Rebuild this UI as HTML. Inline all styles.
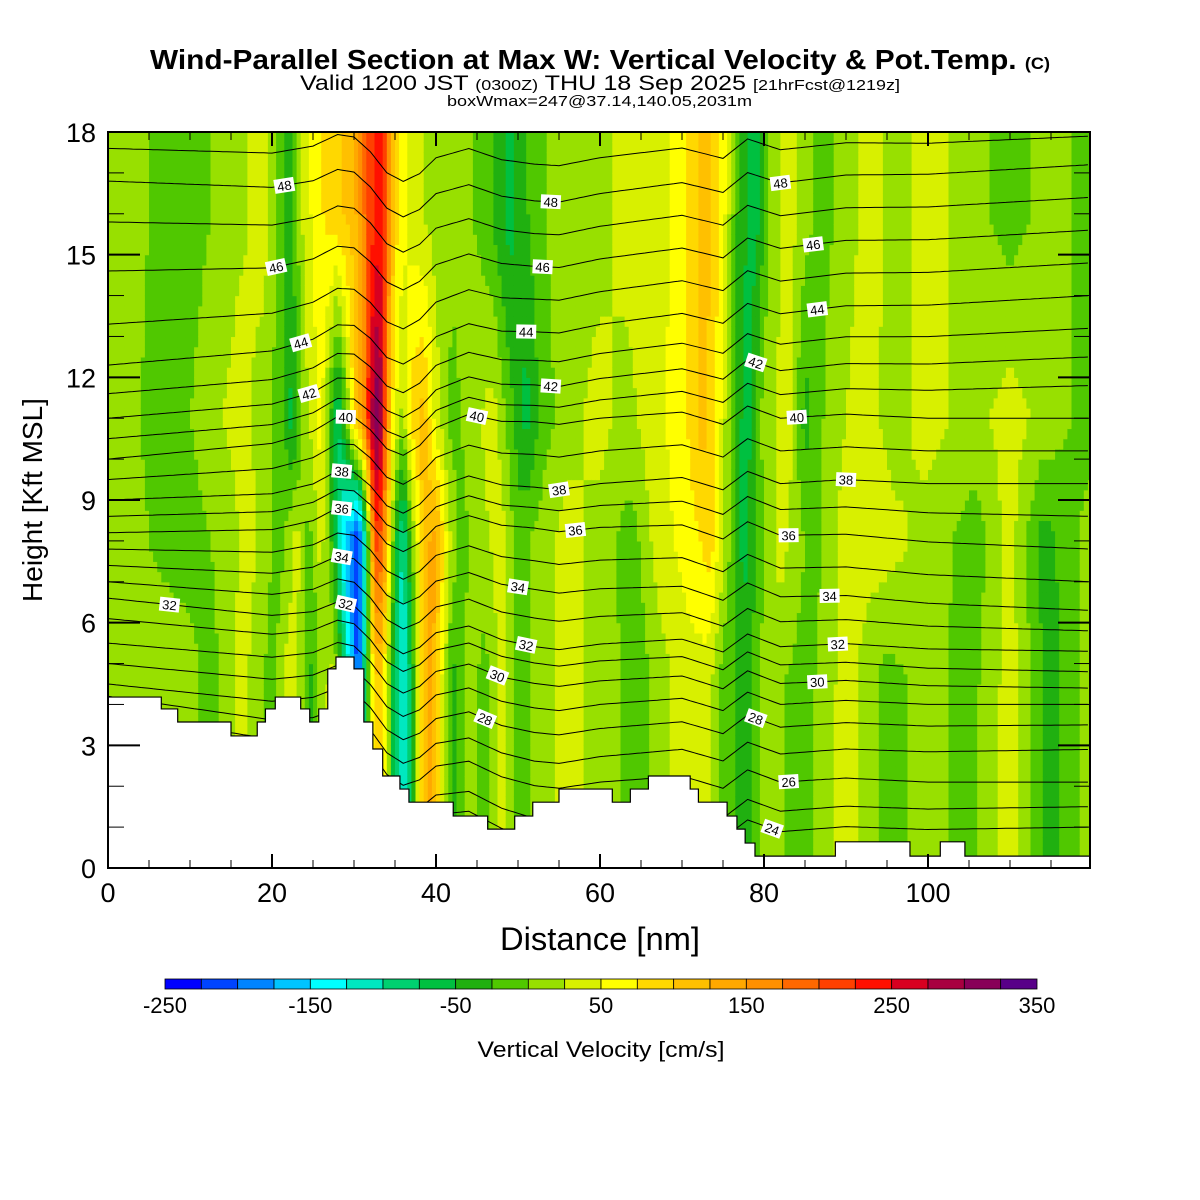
<!DOCTYPE html>
<html><head><meta charset="utf-8"><style>
body{margin:0;background:#fff;}
svg{display:block;font-family:"Liberation Sans",sans-serif;}
</style></head><body>
<svg id="chart" width="1200" height="1200" viewBox="0 0 1200 1200">
<text x="150" y="69" font-size="28" font-weight="bold" textLength="900" lengthAdjust="spacingAndGlyphs">Wind-Parallel Section at Max W: Vertical Velocity &amp; Pot.Temp. <tspan font-size="17">(C)</tspan></text>
<text x="300" y="90" font-size="21" textLength="600" lengthAdjust="spacingAndGlyphs">Valid 1200 JST <tspan font-size="15">(0300Z)</tspan> THU 18 Sep 2025 <tspan font-size="15">[21hrFcst@1219z]</tspan></text>
<text x="447" y="106" font-size="15" textLength="305" lengthAdjust="spacingAndGlyphs">boxWmax=247@37.14,140.05,2031m</text>
<defs><clipPath id="plotclip"><rect x="108" y="132" width="982" height="736"/></clipPath><clipPath id="airclip"><path id="airpath" d=""/></clipPath></defs>
<g id="field" clip-path="url(#plotclip)"></g>
<g id="terrain"></g>
<g id="contours" clip-path="url(#airclip)"></g>
<g id="labels"></g>
<rect x="108" y="132" width="982" height="736" fill="none" stroke="#000" stroke-width="2"/>
<g id="axes"></g>
<text x="600" y="950" text-anchor="middle" font-size="32" textLength="200" lengthAdjust="spacingAndGlyphs">Distance [nm]</text>
<text transform="translate(42,500) rotate(-90)" text-anchor="middle" font-size="28">Height [Kft MSL]</text>
<g id="cbar"></g>
<text x="601" y="1057" text-anchor="middle" font-size="22" textLength="247" lengthAdjust="spacingAndGlyphs">Vertical Velocity [cm/s]</text>
</svg>
<script>
const NS="http://www.w3.org/2000/svg";
// ---- data ----
const colorLevels=[-250,-225,-200,-175,-150,-125,-100,-75,-50,-25,0,25,50,75,100,125,150,175,200,225,250,275,300,325];
const colorHex=["#0000ff","#0044ff","#0084ff","#00c4ff","#00ffff","#00e8c0","#00d070","#00c040","#20b010","#50c800","#98e000","#d8f000","#ffff00","#ffd800","#ffc000","#ffa800","#ff9000","#ff6800","#ff4000","#ff1000","#d80020","#a80040","#880058","#580088"];
const cbarTicks=[-250,-150,-50,50,150,250,350];
const wHeights=[4.5,8,11,16];
const wLowDist=[0,10,12,15,16,18,20,22,23.5,25,26,27.5,28.5,29.5,30.5,31,32,33,34,35,36,37,38,39.5,40.5,42,44,46,48,50,53,56,60,65,70,73,75,78,80,85,90,95,100,105,110,115,120];
const wLowVal=[0,0,-25,0,25,0,-25,25,0,-50,0,25,-50,-150,-225,-150,25,100,25,-100,-150,-75,50,125,50,-50,0,-25,25,-25,0,25,0,-25,25,25,-25,-50,0,-25,25,-25,0,-25,25,-50,0];
const w8Dist=[0,10,15,17,19,21,23,24.5,26,27.5,28.5,29.5,30.5,31.5,32.5,33.5,35,36,37,38.5,40,41.5,43,45,48,50,53,56,60,64,67,71,73.5,75.5,77.5,79.5,82,86,90,95,100,106,110,114,120];
const w8Val=[0,-25,0,25,0,-25,25,-25,25,-50,-150,-200,-250,-100,200,175,-50,-125,-25,100,125,25,-25,0,25,-25,0,25,0,-25,25,50,75,0,-75,-25,25,-25,25,25,0,-25,25,-50,0];
const wMidDist=[0,8,12,16,19,21,22.5,24,26,28,29,30,31,32,33,34,34.8,36,37,38.5,40,42,44,47,49,51,53,56,60,63,66,70,72.5,74.5,76.5,78,80,83,85,88,92,96,100,105,110,115,120];
const wMidVal=[0,-25,0,25,0,-25,-75,0,50,-100,-25,75,125,250,325,150,50,0,75,100,25,-25,0,25,-25,-75,-25,0,25,0,25,50,100,50,-50,-75,0,25,-50,0,25,0,25,0,25,0,-25];
const wTopDist=[0,10,15,19,22,24,27,30,32,33.5,35,37,40,43,46,49,52,55,60,63,67,70,73,75,77,79,81,83,85,87,90,93,96,100,105,110,115,120];
const wTopVal=[0,-25,0,25,-50,25,75,100,200,225,75,25,0,0,-25,-75,-25,0,0,25,25,50,100,50,-50,-75,0,25,0,-25,0,25,0,25,0,-25,0,-25];
const terrDist=[0,6.5,8.5,15,18.2,19.2,20.4,23.5,24.6,25.7,26.8,27.8,30,31.2,32.3,33.5,35.6,36.7,42.1,46.3,49.6,51.8,55,61.5,63.7,65.9,71,72,75.5,76.7,77.7,78.9,88.7,97.8,101.5,104.5];
const terrH=[4.18,3.89,3.57,3.23,3.57,3.89,4.18,3.89,3.57,3.89,4.87,5.16,4.87,3.57,2.91,2.25,1.93,1.61,1.27,0.95,1.27,1.61,1.93,1.61,1.93,2.25,1.93,1.61,1.27,0.95,0.61,0.29,0.64,0.29,0.64,0.29];
const thetaLevels=[24,25,26,27,28,29,30,31,32,33,34,35,36,37,38,39,40,41,42,43,44,45,46,47,48,49];
const thetaLeft=[3.0,3.4,3.8,4.2,4.5,5.0,5.5,6.1,6.6,7.0,7.4,7.8,8.2,8.6,9.0,9.5,10.0,10.5,11.0,11.6,12.3,13.3,14.6,15.8,16.8,17.6];
const thetaMid=[0.8,1.3,2.1,2.7,3.4,4.0,4.6,5.1,5.5,6.2,6.9,7.6,8.4,8.9,9.4,10.2,11.0,11.4,11.9,12.5,13.2,14.0,14.8,15.6,16.4,17.3];
const thetaRight=[1.0,1.5,2.1,2.9,3.5,4.0,4.4,4.8,5.3,5.8,6.3,7.0,7.8,8.6,9.4,10.2,11.0,11.8,12.5,13.2,14.0,14.8,15.6,16.4,17.2,17.9];
const dispDist=[0,20,25,28,30,32,34,36,38,40,44,48,55,60,70,75,78,82,90,100,120];
const dispVal=[0,0,0.2,0.5,0.45,0.1,-0.4,-0.6,-0.4,0,0.25,0,-0.15,0,0.15,-0.15,0.3,0,0.1,0,0];
const labelTheta=[32,48,46,44,42,40,38,36,34,32,48,46,44,42,40,38,36,34,32,30,28,48,46,44,42,40,38,36,34,32,30,28,26,24];
const labelX=[7.5,21.5,20.5,23.5,24.5,29,28.5,28.5,28.5,29,54,53,51,54,45,55,57,50,51,47.5,46,82,86,86.5,79,84,90,83,88,89,86.5,79,83,81];
// ---- scales ----
const X0=108,X1=1090,Y0=868,Y1=132,XMAX=(X1-X0)/8.2;
const sx=d=>X0+d*8.2, sy=h=>Y0-h*(Y0-Y1)/18;
function interp(xs,ys,x){if(x<=xs[0])return ys[0];for(let i=1;i<xs.length;i++){if(x<=xs[i]){const t=(x-xs[i-1])/(xs[i]-xs[i-1]);return ys[i-1]+t*(ys[i]-ys[i-1]);}}return ys[ys.length-1];}
function wAt(d,h){const a=interp(wLowDist,wLowVal,d),b=interp(w8Dist,w8Val,d),m=interp(wMidDist,wMidVal,d),c=interp(wTopDist,wTopVal,d);return interp(wHeights,[a,b,m,c],h);}
function colorFor(v){let i=Math.floor((v+250)/25+0.5);i=Math.max(0,Math.min(colorHex.length-1,i));return colorHex[i];}
function thetaY(k,d){const base=interp([0,52,XMAX],[thetaLeft[k],thetaMid[k],thetaRight[k]],d);return base+interp(dispDist,dispVal,d);}
// ---- field ----
const field=document.getElementById('field');
const dx=0.5,dh=0.25;
for(let d=0;d<XMAX;d+=dx){for(let h=0;h<18;h+=dh){const r=document.createElementNS(NS,'rect');
r.setAttribute('x',sx(d));r.setAttribute('y',sy(h+dh));r.setAttribute('width',dx*8.2+0.6);r.setAttribute('height',dh*40.89+0.6);
r.setAttribute('fill',colorFor(wAt(d+dx/2,h+dh/2)));


field.appendChild(r);}}
// ---- terrain ----
let tp=`M${X0},${Y0}`,ap=`M${X0},${Y1}`;
for(let i=0;i<terrDist.length;i++){const x=sx(terrDist[i]),y=sy(terrH[i]);
if(i===0){tp+=` L${x},${y}`;ap+=` L${x},${y}`;}else{const py=sy(terrH[i-1]);tp+=` L${x},${py} L${x},${y}`;ap+=` L${x},${py} L${x},${y}`;}}
tp+=` L${X1},${sy(terrH[terrH.length-1])} L${X1},${Y0} Z`;ap+=` L${X1},${sy(terrH[terrH.length-1])} L${X1},${Y1} Z`;
const tpath=document.createElementNS(NS,'path');tpath.setAttribute('d',tp);tpath.setAttribute('fill','#fff');tpath.setAttribute('stroke','#000');tpath.setAttribute('stroke-width','1.2');


document.getElementById('terrain').appendChild(tpath);
document.getElementById('airpath').setAttribute('d',ap);
// ---- contours ----
const cg=document.getElementById('contours');
thetaLevels.forEach((th,k)=>{let p='';for(let d=0;d<=XMAX+0.01;d+=0.5){p+=(d===0?'M':' L')+sx(d).toFixed(1)+','+sy(thetaY(k,d)).toFixed(1);}
const pl=document.createElementNS(NS,'path');pl.setAttribute('d',p);pl.setAttribute('fill','none');pl.setAttribute('stroke','#000');pl.setAttribute('stroke-width','1');


cg.appendChild(pl);});
// labels
const lg=document.getElementById('labels');
labelTheta.forEach((th,i)=>{const k=thetaLevels.indexOf(th),d=labelX[i];const x=sx(d),y=sy(thetaY(k,d));
const y2=sy(thetaY(k,d+0.5));const ang=Math.atan2(y2-y,4.1)*180/Math.PI;
const g=document.createElementNS(NS,'g');g.setAttribute('transform',`translate(${x},${y}) rotate(${ang})`);


g.innerHTML=`<rect x="-10" y="-7" width="20" height="14" fill="#fff"/><text x="0" y="5" text-anchor="middle" font-size="13">${th}</text>`;
lg.appendChild(g);});
// ---- axes ----
const ax=document.getElementById('axes');let s='';
for(let d=0;d<=115;d+=5){const x=sx(d),L=d%20===0?14:8;s+=`<line x1="${x}" y1="${Y0}" x2="${x}" y2="${Y0-L}" stroke="#000" stroke-width="${d%20===0?2:1}"/><line x1="${x}" y1="${Y1}" x2="${x}" y2="${Y1+L}" stroke="#000" stroke-width="${d%20===0?2:1}"/>`;
if(d%20===0)s+=`<text x="${x}" y="902" text-anchor="middle" font-size="27">${d}</text>`;}
for(let h=0;h<=18;h++){const y=sy(h),maj=h%3===0,L=maj?32:16;s+=`<line x1="${X0}" y1="${y}" x2="${X0+L}" y2="${y}" stroke="#000" stroke-width="${maj?2:1}"/><line x1="${X1}" y1="${y}" x2="${X1-L}" y2="${y}" stroke="#000" stroke-width="${maj?2:1}"/>`;
if(maj)s+=`<text x="96" y="${y+10}" text-anchor="end" font-size="27">${h}</text>`;}
ax.innerHTML=s;
// ---- colorbar ----
const cb=document.getElementById('cbar');const cw=872/colorHex.length;let c='';
colorHex.forEach((col,i)=>{c+=`<rect x="${165+i*cw}" y="979" width="${cw}" height="10" fill="${col}" stroke="#000" stroke-width="0.8"/>`;});
cbarTicks.forEach(v=>{const x=165+(v+250)/25*cw;c+=`<text x="${x}" y="1013" text-anchor="middle" font-size="22">${v}</text>`;});
cb.innerHTML=c;
</script>
</body></html>
